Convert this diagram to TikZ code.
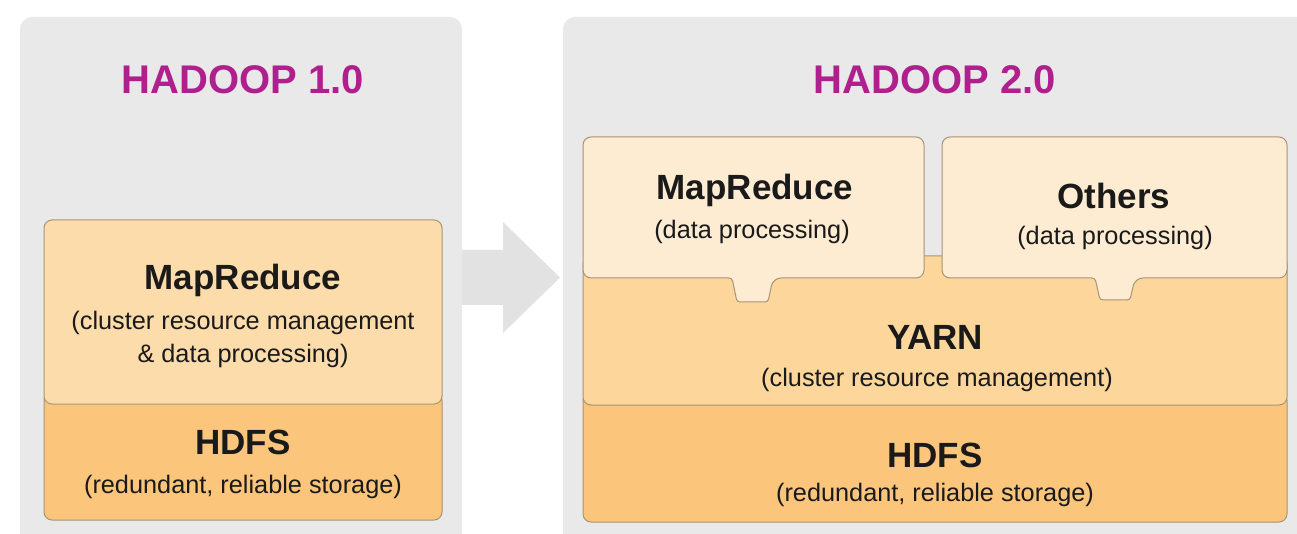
\documentclass[tikz,border=0pt]{standalone}
\usepackage{fontspec}
\setmainfont{Liberation Sans}
\definecolor{panelgray}{HTML}{E9E9E9}
\definecolor{arrowgray}{HTML}{E2E2E2}
\definecolor{mrleft}{HTML}{FDDCAB}
\definecolor{hdfsc}{HTML}{FBC57B}
\definecolor{cream}{HTML}{FDEBD2}
\definecolor{yarnc}{HTML}{FDD69C}
\definecolor{edgec}{HTML}{A89474}
\definecolor{hmag}{HTML}{B01F8E}
\definecolor{txt}{HTML}{1A1A1A}
\begin{document}
\begin{tikzpicture}[x=1pt,y=-1pt,
  panel/.style={fill=panelgray, rounded corners=12pt},
  layer/.style={draw=edgec, line width=1pt, rounded corners=8pt},
  title/.style={font=\fontsize{40}{44}\selectfont\bfseries, text=hmag, inner sep=0pt},
  head/.style={font=\fontsize{35}{40}\selectfont\bfseries, text=txt, inner sep=0pt},
  sub/.style={font=\fontsize{25.3}{33}\selectfont, text=txt, align=center, inner sep=0pt},
]
\useasboundingbox (0,0) rectangle (1297,534);
\fill[white] (0,0) rectangle (1297,534);
% panels
\fill[panel] (20,17) rectangle (462,545);
\fill[panel] (563,17) rectangle (1310,545);
% arrow
\fill[arrowgray] (462,250) -- (503,250) -- (503,222) -- (560,277.5) -- (503,333) -- (503,305) -- (462,305) -- cycle;
% Hadoop 1.0
\draw[layer, fill=hdfsc] (44,392) rectangle (442,520);
\draw[layer, fill=mrleft] (44,220) rectangle (442,404);
\node[title] (t1) at (243,80) {HADOOP 1.0};
\node[head] (mr1) at (243,280) {MapReduce};
\node[sub] (mr1s) at (243,339) {(cluster resource management\\ \& data processing)};
\node[head] (hd1) at (243,442) {HDFS};
\node[sub] (hd1s) at (243,487) {(redundant, reliable storage)};
% Hadoop 2.0
\draw[layer, fill=hdfsc] (583,392) rectangle (1287,522);
\draw[layer, fill=yarnc] (583,256) rectangle (1287,405);
\draw[layer, fill=cream] (754,137) -- (924,137) -- (924,278) -- (773,278) [rounded corners=3pt] -- (768,302) -- (737,302) -- (732,278) [rounded corners=8pt] -- (583,278) -- (583,137) -- cycle;
\draw[layer, fill=cream] (1114,137) -- (1287,137) -- (1287,278) -- (1135,278) [rounded corners=3pt] -- (1130,300) -- (1100,300) -- (1095,278) [rounded corners=8pt] -- (942,278) -- (942,137) -- cycle;
\node[title] (t2) at (935,80) {HADOOP 2.0};
\node[head] (mr2) at (755,190) {MapReduce};
\node[sub] (mr2s) at (752,232) {(data processing)};
\node[head] (oth) at (1114,196) {Others};
\node[sub] (oths) at (1115,238) {(data processing)};
\node[head] (yarn) at (935,337) {YARN};
\node[sub] (yarns) at (937,380) {(cluster resource management)};
\node[head] (hd2) at (935,455) {HDFS};
\node[sub] (hd2s) at (935,495) {(redundant, reliable storage)};
\end{tikzpicture}
\end{document}
